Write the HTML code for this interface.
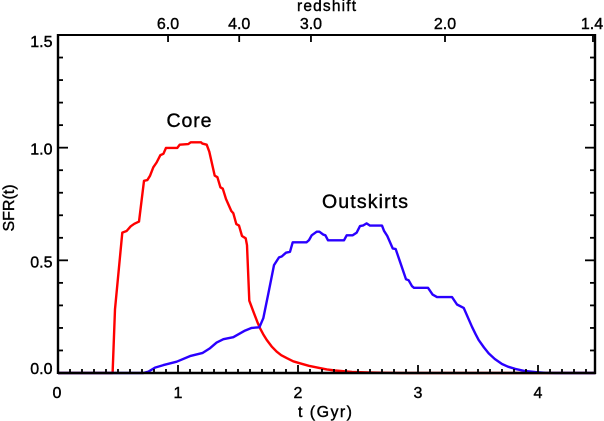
<!DOCTYPE html>
<html>
<head>
<meta charset="utf-8">
<style>
html,body{margin:0;padding:0;background:#fff;width:604px;height:421px;overflow:hidden}
svg{display:block}
text{font-family:"Liberation Sans",sans-serif;fill:#000;stroke:#000;stroke-width:0.4}
</style>
</head>
<body>
<svg id="chart" width="604" height="421" viewBox="0 0 604 421" xmlns="http://www.w3.org/2000/svg">
<rect width="604" height="421" fill="#fff"/>
<g id="series"></g>
<g id="axes"></g>
<text x="189" y="127" font-size="19.5" text-anchor="middle" textLength="45">Core</text>
<text x="322" y="208" font-size="19.5" textLength="86">Outskirts</text>
<text x="298" y="417" font-size="16" textLength="54" xml:space="preserve">t (Gyr)</text>
<text transform="translate(14,208) rotate(-90)" font-size="16" text-anchor="middle">SFR(t)</text>
<text x="297" y="11" font-size="15.5" textLength="59">redshift</text>
</svg>
<script>
const coreT = [0,0.455,0.475,0.536,0.572,0.606,0.636,0.675,0.717,0.744,0.767,0.794,0.822,0.853,0.878,0.900,0.994,1.014,1.086,1.106,1.192,1.203,1.239,1.261,1.306,1.328,1.353,1.373,1.400,1.444,1.461,1.486,1.508,1.533,1.564,1.575,1.594,1.628,1.66,1.683,1.71,1.739,1.78,1.822,1.86,1.906,1.96,2.017,2.09,2.172,2.24,2.308,2.45,2.589,2.867,4.475];
const coreSFR = [0,0,0.283,0.623,0.630,0.651,0.662,0.672,0.853,0.856,0.875,0.913,0.934,0.967,0.973,0.999,0.999,1.013,1.016,1.024,1.024,1.018,1.013,0.982,0.876,0.869,0.824,0.818,0.772,0.719,0.709,0.661,0.654,0.608,0.598,0.567,0.321,0.272,0.228,0.199,0.172,0.147,0.118,0.095,0.079,0.066,0.052,0.043,0.032,0.023,0.016,0.011,0.005,0.002,0,0];
const outskirtsT = [0,0.711,0.753,0.808,0.878,0.989,1.100,1.206,1.267,1.322,1.378,1.461,1.558,1.614,1.678,1.711,1.753,1.800,1.842,1.864,1.900,1.933,1.956,2.072,2.092,2.114,2.156,2.178,2.211,2.228,2.250,2.383,2.406,2.456,2.489,2.517,2.544,2.572,2.600,2.700,2.717,2.744,2.789,2.814,2.850,2.900,2.922,2.950,2.967,3.083,3.122,3.158,3.283,3.325,3.381,3.450,3.48,3.506,3.55,3.589,3.64,3.700,3.75,3.811,3.89,3.978,4.06,4.142,4.475];
const outskirtsSFR = [0,0,0.006,0.024,0.035,0.050,0.075,0.089,0.110,0.135,0.150,0.159,0.188,0.200,0.203,0.243,0.354,0.479,0.513,0.517,0.534,0.538,0.580,0.580,0.590,0.611,0.627,0.627,0.614,0.611,0.589,0.589,0.611,0.611,0.623,0.652,0.655,0.664,0.654,0.654,0.631,0.608,0.553,0.550,0.494,0.416,0.412,0.385,0.378,0.378,0.348,0.337,0.337,0.304,0.289,0.205,0.172,0.146,0.113,0.087,0.062,0.040,0.028,0.018,0.009,0.004,0.001,0,0];
const xTickLabels = ["0","1","2","3","4"];
const yTickLabels = ["0.0","0.5","1.0","1.5"];
const redshiftLabels = ["6.0","4.0","3.0","2.0","1.4"];
const redshiftTimes = [0.917,1.51,2.108,3.225,4.458];
const xMax = 4.475;
const yMax = 1.5;

const NS = "http://www.w3.org/2000/svg";
const sx = t => 58 + t * 120;
const sy = v => 373 - v * 225.33;
const seriesG = document.getElementById("series");
const axesG = document.getElementById("axes");

function addLine(parent, x1, y1, x2, y2, w) {
  const l = document.createElementNS(NS, "line");
  l.setAttribute("x1", x1);
  l.setAttribute("y1", y1);
  l.setAttribute("x2", x2);
  l.setAttribute("y2", y2);
  l.setAttribute("stroke", "#000");
  l.setAttribute("stroke-width", w);
  parent.appendChild(l);
  return l;
}
function addText(parent, x, y, s, anchor) {
  const t = document.createElementNS(NS, "text");
  t.setAttribute("x", x);
  t.setAttribute("y", y);
  t.setAttribute("font-size", "16");
  t.setAttribute("text-anchor", anchor);
  t.textContent = s;
  parent.appendChild(t);
  return t;
}
function addCurve(ts, vs, color) {
  const p = document.createElementNS(NS, "polyline");
  p.setAttribute("points", ts.map((t, i) => sx(t).toFixed(1) + "," + sy(vs[i]).toFixed(1)).join(" "));
  p.setAttribute("fill", "none");
  p.setAttribute("stroke", color);
  p.setAttribute("stroke-width", "2.4");
  p.setAttribute("stroke-linejoin", "round");
  seriesG.appendChild(p);
  return p;
}

const coreLine = addCurve(coreT, coreSFR, "#ff0000");


const outLine = addCurve(outskirtsT, outskirtsSFR, "#2a00ff");



// frame
const frameLeft = addLine(axesG, sx(0), sy(yMax) - 1, sx(0), sy(0) + 1, 2.4);


const frameBottom = addLine(axesG, sx(0), sy(0), sx(xMax) + 1, sy(0), 2.4);


const frameRight = addLine(axesG, sx(xMax), sy(yMax) - 1, sx(xMax), sy(0) + 1, 2.4);


const frameTop = addLine(axesG, sx(0), sy(yMax), sx(xMax) + 1, sy(yMax), 2);



// x minor + major ticks
for (let i = 1; i < Math.floor(xMax * 10) + 1; i++) {
  const t = i / 10;
  const len = i % 10 === 0 ? 8 : 4;
  const tk = addLine(axesG, sx(t), sy(0), sx(t), sy(0) - len, 1.8);
  
  
}
xTickLabels.forEach(s => {
  const lb = addText(axesG, sx(+s) - (s === "0" ? 1 : 0), 398, s, "middle");
  
  
});

// y ticks, both sides
for (let i = 1; i < 15; i++) {
  const v = i / 10;
  const len = i % 5 === 0 ? 10 : 5;
  const a = addLine(axesG, sx(0), sy(v), sx(0) + len, sy(v), 1.8);
  
  
  const b = addLine(axesG, sx(xMax), sy(v), sx(xMax) - len, sy(v), 1.8);
  
  
}
yTickLabels.forEach(s => {
  const cy = Math.max(41, Math.min(368, sy(+s) + 1));
  const lb = addText(axesG, 52.5, cy + 6, s, "end");
  
  
});

// redshift axis
redshiftLabels.forEach((s, i) => {
  const x = sx(redshiftTimes[i]);
  const tk = addLine(axesG, x, sy(yMax), x, sy(yMax) + 7, 1.8);
  
  
  const lb = addText(axesG, Math.min(x, 592), 29, s, "middle");
  
  
});
</script>
</body>
</html>
